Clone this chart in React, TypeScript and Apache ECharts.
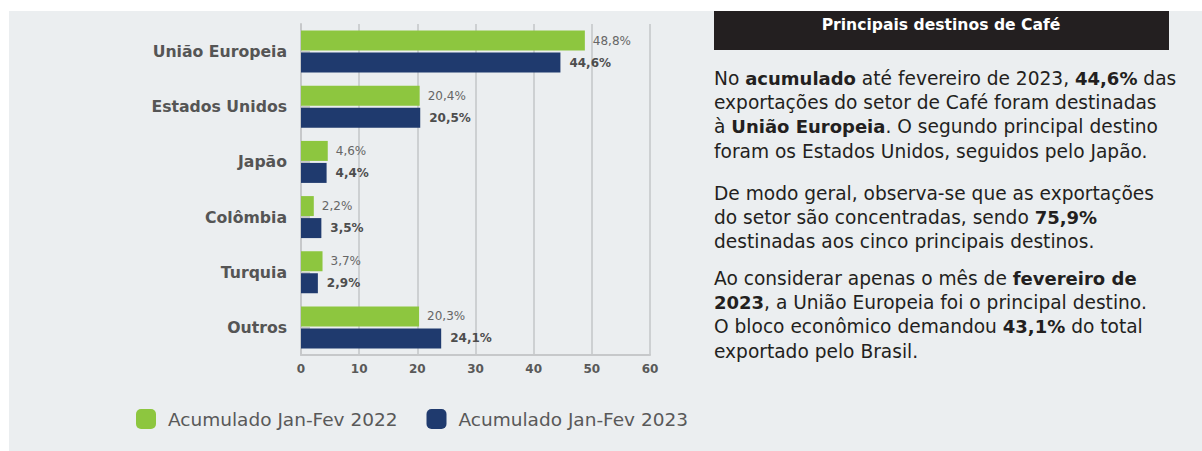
import React, { useEffect, useRef } from "react";
import * as echarts from "echarts";

const categories = ["União Europeia", "Estados Unidos", "Japão", "Colômbia", "Turquia", "Outros"];
const values2022 = [48.8, 20.4, 4.6, 2.2, 3.7, 20.3];
const values2023 = [44.6, 20.5, 4.4, 3.5, 2.9, 24.1];
const seriesNames = ["Acumulado Jan-Fev 2022", "Acumulado Jan-Fev 2023"];
const xMin = 0;
const xMax = 60;
const xInterval = 10;

const headerTitle = "Principais destinos de Café";
// paragraphs: each line is a list of [text, bold]
const paragraphs: [string, boolean][][][] = [
  [
    [["No ", false], ["acumulado", true], [" até fevereiro de 2023, ", false], ["44,6%", true], [" das", false]],
    [["exportações do setor de Café foram destinadas", false]],
    [["à ", false], ["União Europeia", true], [". O segundo principal destino", false]],
    [["foram os Estados Unidos, seguidos pelo Japão.", false]],
  ],
  [
    [["De modo geral, observa-se que as exportações", false]],
    [["do setor são concentradas, sendo ", false], ["75,9%", true]],
    [["destinadas aos cinco principais destinos.", false]],
  ],
  [
    [["Ao considerar apenas o mês de ", false], ["fevereiro de", true]],
    [["2023", true], [", a União Europeia foi o principal destino.", false]],
    [["O bloco econômico demandou ", false], ["43,1%", true], [" do total", false]],
    [["exportado pelo Brasil.", false]],
  ],
];
const paragraphTops = [66, 181, 266];

const FONT = "'DejaVu Sans', 'Open Sans', sans-serif";
const fmt = (v: number) => v.toFixed(1).replace(".", ",") + "%";
const esc = (s: string) => s.replace(/[{}|]/g, "");

export default function App() {
  const ref = useRef<HTMLDivElement>(null);
  useEffect(() => {
    if (!ref.current) return;
    const chart = echarts.init(ref.current, undefined, { renderer: "svg" });
    const lineH = 24.3;
    const paraGraphics = paragraphs.map((lines, i) => ({
      type: "text",
      left: 714,
      top: paragraphTops[i],
      style: {
        text: lines
          .map((segs) => segs.map(([t, b]) => `{${b ? "b" : "n"}|${esc(t)}}`).join(""))
          .join("\n"),
        rich: {
          n: { fontFamily: FONT, fontSize: 18.6, fontWeight: 400, fill: "#231f20", lineHeight: lineH },
          b: { fontFamily: FONT, fontSize: 18, fontWeight: 700, fill: "#231f20", lineHeight: lineH },
        },
        fontFamily: FONT,
        fontSize: 18.6,
        lineHeight: lineH,
        fill: "#231f20",
      },
    }));
    chart.setOption({
      animation: false,
      backgroundColor: "#ffffff",
      graphic: [
        {
          type: "rect",
          shape: { x: 9, y: 11, width: 1193, height: 440 },
          style: { fill: "#ebeef0" },
          z: -10,
          silent: true,
        },
        {
          type: "rect",
          shape: { x: 714, y: 11, width: 455, height: 39 },
          style: { fill: "#231f20" },
          z: 1,
        },
        {
          type: "text",
          x: 941,
          y: 25,
          style: {
            text: headerTitle,
            fill: "#ffffff",
            fontFamily: FONT,
            fontSize: 15.6,
            fontWeight: 700,
            align: "center",
            verticalAlign: "middle",
          },
          z: 2,
        },
        ...paraGraphics,
      ],
      legend: {
        left: 136,
        top: 409,
        padding: 0,
        itemWidth: 20,
        itemHeight: 20,
        itemGap: 29,
        icon: "roundRect",
        textStyle: {
          fontFamily: FONT,
          fontSize: 18.5,
          color: "#595959",
          padding: [0, 0, 0, 7],
        },
        data: seriesNames,
      },
      grid: { left: 301, right: 552, top: 24, bottom: 96, containLabel: false },
      xAxis: {
        type: "value",
        min: xMin,
        max: xMax,
        interval: xInterval,
        axisLine: { show: true, lineStyle: { color: "#c6c8ca", width: 2 } },
        axisTick: { show: false },
        axisLabel: {
          margin: 8,
          fontFamily: FONT,
          fontSize: 12,
          fontWeight: 700,
          color: "#595959",
        },
        splitLine: { show: true, lineStyle: { color: "#cdd0d2", width: 2 } },
      },
      yAxis: {
        type: "category",
        inverse: true,
        data: categories,
        axisLine: { show: true, lineStyle: { color: "#c6c8ca", width: 2 } },
        axisTick: { show: true, inside: true, alignWithLabel: true, length: 9, lineStyle: { color: "#c6c8ca", width: 2 } },
        axisLabel: {
          margin: 14,
          fontFamily: FONT,
          fontSize: 15.7,
          fontWeight: 700,
          color: "#555555",
        },
      },
      series: [
        {
          name: seriesNames[0],
          type: "bar",
          data: values2022,
          barWidth: 20,
          barGap: "10%",
          itemStyle: { color: "#8dc63f" },
          label: {
            show: true,
            position: "right",
            distance: 8,
            formatter: (p: any) => fmt(p.value),
            fontFamily: FONT,
            fontSize: 12,
            fontWeight: 400,
            color: "#666666",
          },
        },
        {
          name: seriesNames[1],
          type: "bar",
          data: values2023,
          barWidth: 20,
          barGap: "10%",
          itemStyle: { color: "#1f3a6e" },
          label: {
            show: true,
            position: "right",
            distance: 9,
            formatter: (p: any) => fmt(p.value),
            fontFamily: FONT,
            fontSize: 12,
            fontWeight: 700,
            color: "#4d4d4d",
          },
        },
      ],
    });
    return () => chart.dispose();
  }, []);
  return (
    <div
      ref={ref}
      style={{ position: "fixed", left: 0, top: 0, width: 1202, height: 451 }}
    />
  );
}
